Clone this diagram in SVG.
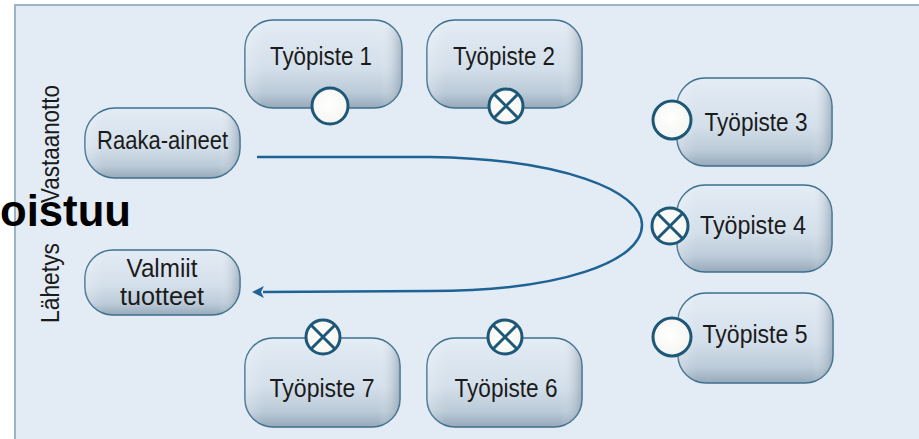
<svg xmlns="http://www.w3.org/2000/svg" width="919" height="439" viewBox="0 0 919 439">
  <defs>
    <linearGradient id="boxg" x1="0" y1="0" x2="0" y2="1">
      <stop offset="0" stop-color="#e4ecf5"/>
      <stop offset="0.55" stop-color="#d3dfea"/>
      <stop offset="0.82" stop-color="#bccbd8"/>
      <stop offset="1" stop-color="#97a9ba"/>
    </linearGradient>
    <linearGradient id="boxside" x1="0" y1="0" x2="1" y2="0">
      <stop offset="0" stop-color="#ffffff" stop-opacity="0.25"/>
      <stop offset="0.12" stop-color="#ffffff" stop-opacity="0"/>
      <stop offset="0.86" stop-color="#ffffff" stop-opacity="0"/>
      <stop offset="1" stop-color="#6f8599" stop-opacity="0.5"/>
    </linearGradient>
    <radialGradient id="circg" cx="0.45" cy="0.45" r="0.6">
      <stop offset="0" stop-color="#ffffff"/>
      <stop offset="1" stop-color="#f4f5f0"/>
    </radialGradient>
    <marker id="arrow" viewBox="0 0 12 12" refX="1" refY="6" markerWidth="12" markerHeight="12" markerUnits="userSpaceOnUse" orient="auto">
      <path d="M0,0 L12,6 L0,12 L3,6 Z" fill="#1f6394"/>
    </marker>
  </defs>
  <style>
    .box { fill: url(#boxg); stroke: #3d6f8e; stroke-width: 1.5; }
    .side { fill: url(#boxside); stroke: none; }
    .lbl { font-family: "Liberation Sans", Arial, sans-serif; font-size: 26px; fill: #1b1b1b; text-anchor: middle; }
    .vl { font-family: "Liberation Sans", Arial, sans-serif; font-size: 25px; fill: #1b1b1b; text-anchor: middle; }
    .port { fill: url(#circg); stroke: #1d5878; stroke-width: 3; }
    .xl { stroke: #1d5878; stroke-width: 3; fill: none; }
    .flow { fill: none; stroke: #1f6394; stroke-width: 2.5; }
    .big { font-family: "Liberation Sans", Arial, sans-serif; font-weight: bold; font-size: 44px; fill: #000000; }
  </style>

  <rect x="0" y="0" width="919" height="439" fill="#ffffff"/>
  <rect x="15" y="5" width="906" height="440" fill="#e3ebf5" stroke="#9cb4c7" stroke-width="2"/>

  <g id="label-vastaanotto">
    <text class="vl" transform="translate(59,144) rotate(-90)" textLength="118" lengthAdjust="spacingAndGlyphs">Vastaanotto</text>
  </g>
  <g id="label-lahetys">
    <text class="vl" transform="translate(59,283) rotate(-90)" textLength="80" lengthAdjust="spacingAndGlyphs">Lähetys</text>
  </g>

  <g id="connectors">
    <path class="flow" d="M257,157 L430,157 C560,159 642,190 642,225 C642,262 560,291 430,291 L263,292" marker-end="url(#arrow)"/>
  </g>

  <g id="raaka-aineet">
    <rect class="box" x="85" y="108" width="155" height="70" rx="30"/>
    <rect class="side" x="85" y="108" width="155" height="70" rx="30"/>
    <text class="lbl" x="162.5" y="149" textLength="131" lengthAdjust="spacingAndGlyphs">Raaka-aineet</text>
  </g>

  <g id="valmiit-tuotteet">
    <rect class="box" x="85" y="250" width="155" height="65" rx="28"/>
    <rect class="side" x="85" y="250" width="155" height="65" rx="28"/>
    <text class="lbl" x="162" y="277" textLength="71" lengthAdjust="spacingAndGlyphs">Valmiit</text>
    <text class="lbl" x="162" y="305" textLength="84" lengthAdjust="spacingAndGlyphs">tuotteet</text>
  </g>

  <g id="tyopiste-1">
    <rect class="box" x="245" y="20" width="157" height="88" rx="28"/>
    <rect class="side" x="245" y="20" width="157" height="88" rx="28"/>
    <text class="lbl" x="321" y="65" textLength="102" lengthAdjust="spacingAndGlyphs">Työpiste 1</text>
    <circle class="port" cx="330" cy="106" r="18"/>
  </g>

  <g id="tyopiste-2">
    <rect class="box" x="427" y="20" width="155" height="88" rx="28"/>
    <rect class="side" x="427" y="20" width="155" height="88" rx="28"/>
    <text class="lbl" x="504" y="65" textLength="102" lengthAdjust="spacingAndGlyphs">Työpiste 2</text>
    <circle class="port" cx="506" cy="106" r="17"/>
    <path class="xl" d="M494,94 L518,118 M518,94 L494,118"/>
  </g>

  <g id="tyopiste-3">
    <rect class="box" x="677" y="78" width="155" height="88" rx="28"/>
    <rect class="side" x="677" y="78" width="155" height="88" rx="28"/>
    <text class="lbl" x="756" y="131" textLength="103" lengthAdjust="spacingAndGlyphs">Työpiste 3</text>
    <circle class="port" cx="672" cy="120" r="19"/>
  </g>

  <g id="tyopiste-4">
    <rect class="box" x="677" y="185" width="155" height="87" rx="28"/>
    <rect class="side" x="677" y="185" width="155" height="87" rx="28"/>
    <text class="lbl" x="753" y="234" textLength="106" lengthAdjust="spacingAndGlyphs">Työpiste 4</text>
    <circle class="port" cx="670" cy="226" r="18"/>
    <path class="xl" d="M657,213 L683,239 M683,213 L657,239"/>
  </g>

  <g id="tyopiste-5">
    <rect class="box" x="678" y="293" width="155" height="90" rx="28"/>
    <rect class="side" x="678" y="293" width="155" height="90" rx="28"/>
    <text class="lbl" x="755" y="343" textLength="105" lengthAdjust="spacingAndGlyphs">Työpiste 5</text>
    <circle class="port" cx="672" cy="337" r="19"/>
  </g>

  <g id="tyopiste-6">
    <rect class="box" x="427" y="338" width="155" height="89" rx="28"/>
    <rect class="side" x="427" y="338" width="155" height="89" rx="28"/>
    <text class="lbl" x="506" y="397" textLength="103" lengthAdjust="spacingAndGlyphs">Työpiste 6</text>
    <circle class="port" cx="505" cy="337" r="17"/>
    <path class="xl" d="M493,325 L517,349 M517,325 L493,349"/>
  </g>

  <g id="tyopiste-7">
    <rect class="box" x="245" y="338" width="155" height="89" rx="28"/>
    <rect class="side" x="245" y="338" width="155" height="89" rx="28"/>
    <text class="lbl" x="322" y="397" textLength="105" lengthAdjust="spacingAndGlyphs">Työpiste 7</text>
    <circle class="port" cx="323" cy="337" r="17"/>
    <path class="xl" d="M311,325 L335,349 M335,325 L311,349"/>
  </g>

  <g id="overlay-text">
    <text class="big" x="0" y="226" textLength="131" lengthAdjust="spacingAndGlyphs">oistuu</text>
  </g>
</svg>
